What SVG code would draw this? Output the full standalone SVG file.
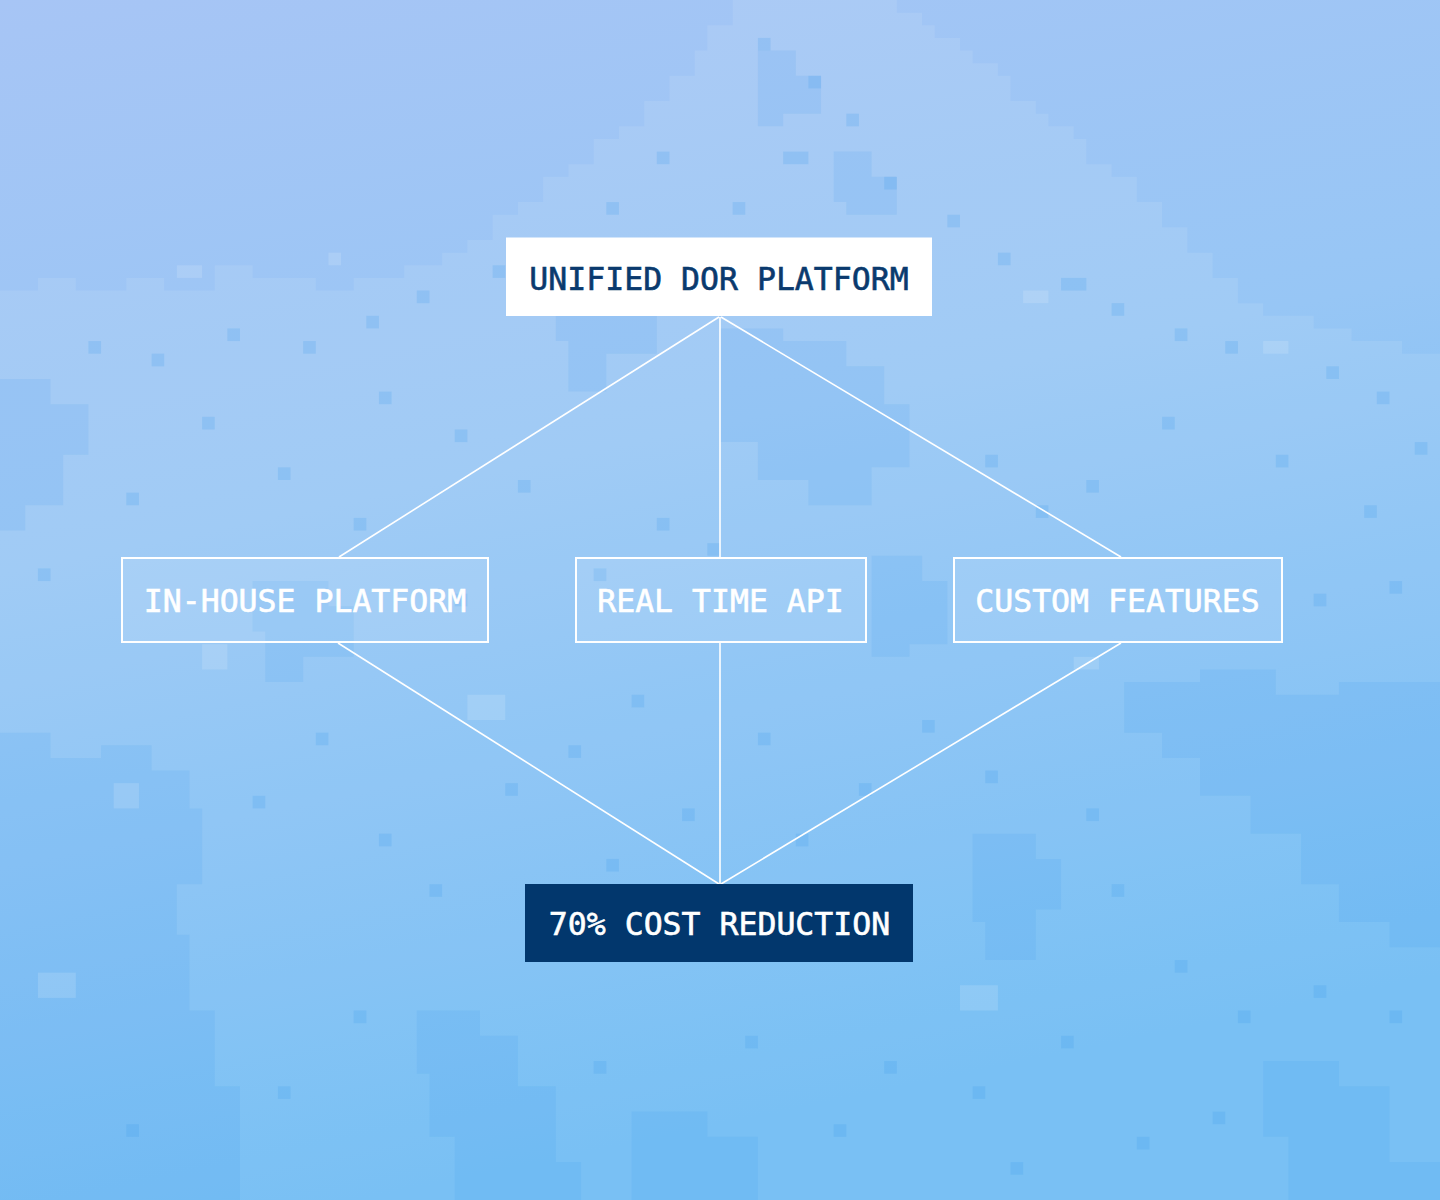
<svg xmlns="http://www.w3.org/2000/svg" width="1440" height="1200" viewBox="0 0 1440 1200">
  <defs>
    <linearGradient id="bg" x1="0" y1="0" x2="0.25" y2="1">
      <stop offset="0" stop-color="#a7c5f5"/>
      <stop offset="0.45" stop-color="#97c6f5"/>
      <stop offset="1" stop-color="#6cbaf3"/>
    </linearGradient>
    <style>
      .lt { fill: #ffffff; fill-opacity: 0.09; }
      .dk { fill: #2f95ea; fill-opacity: 0.11; }
      .sq { fill: #3d9cec; fill-opacity: 0.2; }
      .sl { fill: #ffffff; fill-opacity: 0.14; }
      .edge { stroke: #ffffff; stroke-width: 1.6; fill: none; }
      .label { font-family: "DejaVu Sans Mono", "Liberation Mono", monospace; font-size: 31.5px; text-anchor: middle; stroke-width: 0.6; }
      .outline { fill: #ffffff; fill-opacity: 0.1; stroke: #ffffff; stroke-width: 2; }
    </style>
  </defs>

  <g id="background">
    <rect x="0" y="0" width="1440" height="1200" fill="url(#bg)"/>
    <g transform="scale(12.6316)">
      <path class="lt" d="M0,95 V23 H3 V22 H6 V23 H10 V22 H13 V23 H17 V21 H20 V22 H25 V23 H28 V22 H32 V21 H35 V20 H37 V19 H39 V17 H41 V16 H43 V14 H45 V13 H47 V11 H49 V10 H51 V8 H53 V6 H55 V4 H56 V2 H58 V0 H71 V1 H73 V2 H74 V3 H76 V4 H77 V5 H79 V6 H80 V8 H82 V9 H83 V10 H85 V11 H86 V13 H88 V14 H90 V16 H92 V18 H94 V20 H96 V22 H98 V24 H100 V25 H104 V26 H107 V27 H111 V28 H114 V95 Z"/>
      <path class="dk" d="M0,58 H4 V60 H8 V59 H12 V61 H15 V64 H16 V70 H14 V74 H15 V80 H17 V86 H19 V95 H0 Z"/>
      <path class="dk" d="M89,54 H95 V53 H101 V55 H106 V54 H114 V75 H110 V73 H106 V70 H103 V66 H99 V63 H95 V60 H92 V58 H89 Z"/>
      <path class="dk" d="M57,26 H62 V27 H67 V29 H70 V32 H72 V37 H69 V40 H64 V38 H60 V35 H57 Z"/>
      <path class="dk" d="M69,44 H73 V46 H75 V51 H72 V52 H69 Z"/>
      <path class="dk" d="M77,66 H82 V68 H84 V72 H82 V76 H78 V73 H77 Z"/>
      <path class="dk" d="M33,80 H38 V82 H41 V86 H44 V92 H46 V95 H36 V90 H34 V85 H33 Z"/>
      <path class="dk" d="M50,88 H56 V90 H60 V95 H50 Z"/>
      <path class="dk" d="M0,30 H4 V32 H7 V36 H5 V40 H2 V42 H0 Z"/>
      <path class="dk" d="M44,22 H49 V24 H52 V28 H48 V31 H45 V27 H44 Z"/>
      <path class="dk" d="M100,84 H106 V86 H110 V92 H114 V95 H102 V90 H100 Z"/>
      <path class="dk" d="M20,46 H26 V48 H28 V52 H24 V54 H21 V50 H20 Z"/>
      <path class="dk" d="M60,4 H63 V6 H65 V9 H62 V10 H60 Z"/>
      <path class="dk" d="M66,12 H69 V14 H71 V17 H67 V16 H66 Z"/>
      <rect class="sq" x="60" y="3" width="1" height="1"/>
      <rect class="sq" x="64" y="6" width="1" height="1"/>
      <rect class="sq" x="67" y="9" width="1" height="1"/>
      <rect class="sq" x="62" y="12" width="2" height="1"/>
      <rect class="sq" x="70" y="14" width="1" height="1"/>
      <rect class="sq" x="58" y="16" width="1" height="1"/>
      <rect class="sq" x="75" y="17" width="1" height="1"/>
      <rect class="sq" x="79" y="20" width="1" height="1"/>
      <rect class="sq" x="84" y="22" width="2" height="1"/>
      <rect class="sq" x="88" y="24" width="1" height="1"/>
      <rect class="sq" x="93" y="26" width="1" height="1"/>
      <rect class="sq" x="97" y="27" width="1" height="1"/>
      <rect class="sq" x="105" y="29" width="1" height="1"/>
      <rect class="sq" x="109" y="31" width="1" height="1"/>
      <rect class="sq" x="112" y="35" width="1" height="1"/>
      <rect class="sq" x="52" y="12" width="1" height="1"/>
      <rect class="sq" x="48" y="16" width="1" height="1"/>
      <rect class="sq" x="44" y="19" width="1" height="1"/>
      <rect class="sq" x="39" y="21" width="1" height="1"/>
      <rect class="sq" x="33" y="23" width="1" height="1"/>
      <rect class="sq" x="29" y="25" width="1" height="1"/>
      <rect class="sq" x="24" y="27" width="1" height="1"/>
      <rect class="sq" x="18" y="26" width="1" height="1"/>
      <rect class="sq" x="12" y="28" width="1" height="1"/>
      <rect class="sq" x="7" y="27" width="1" height="1"/>
      <rect class="sq" x="30" y="31" width="1" height="1"/>
      <rect class="sq" x="16" y="33" width="1" height="1"/>
      <rect class="sq" x="36" y="34" width="1" height="1"/>
      <rect class="sq" x="22" y="37" width="1" height="1"/>
      <rect class="sq" x="10" y="39" width="1" height="1"/>
      <rect class="sq" x="41" y="38" width="1" height="1"/>
      <rect class="sq" x="28" y="41" width="1" height="1"/>
      <rect class="sq" x="3" y="45" width="1" height="1"/>
      <rect class="sq" x="36" y="47" width="1" height="1"/>
      <rect class="sq" x="47" y="45" width="1" height="1"/>
      <rect class="sq" x="52" y="41" width="1" height="1"/>
      <rect class="sq" x="56" y="43" width="1" height="1"/>
      <rect class="sq" x="78" y="36" width="1" height="1"/>
      <rect class="sq" x="82" y="40" width="1" height="1"/>
      <rect class="sq" x="86" y="38" width="1" height="1"/>
      <rect class="sq" x="92" y="33" width="1" height="1"/>
      <rect class="sq" x="101" y="36" width="1" height="1"/>
      <rect class="sq" x="108" y="40" width="1" height="1"/>
      <rect class="sq" x="104" y="47" width="1" height="1"/>
      <rect class="sq" x="110" y="46" width="1" height="1"/>
      <rect class="sq" x="50" y="55" width="1" height="1"/>
      <rect class="sq" x="45" y="59" width="1" height="1"/>
      <rect class="sq" x="40" y="62" width="1" height="1"/>
      <rect class="sq" x="25" y="58" width="1" height="1"/>
      <rect class="sq" x="20" y="63" width="1" height="1"/>
      <rect class="sq" x="30" y="66" width="1" height="1"/>
      <rect class="sq" x="34" y="70" width="1" height="1"/>
      <rect class="sq" x="42" y="73" width="1" height="1"/>
      <rect class="sq" x="48" y="68" width="1" height="1"/>
      <rect class="sq" x="54" y="64" width="1" height="1"/>
      <rect class="sq" x="60" y="58" width="1" height="1"/>
      <rect class="sq" x="63" y="66" width="1" height="1"/>
      <rect class="sq" x="68" y="62" width="1" height="1"/>
      <rect class="sq" x="73" y="57" width="1" height="1"/>
      <rect class="sq" x="78" y="61" width="1" height="1"/>
      <rect class="sq" x="86" y="64" width="1" height="1"/>
      <rect class="sq" x="88" y="70" width="1" height="1"/>
      <rect class="sq" x="93" y="76" width="1" height="1"/>
      <rect class="sq" x="98" y="80" width="1" height="1"/>
      <rect class="sq" x="104" y="78" width="1" height="1"/>
      <rect class="sq" x="110" y="80" width="1" height="1"/>
      <rect class="sq" x="84" y="82" width="1" height="1"/>
      <rect class="sq" x="77" y="86" width="1" height="1"/>
      <rect class="sq" x="70" y="84" width="1" height="1"/>
      <rect class="sq" x="66" y="89" width="1" height="1"/>
      <rect class="sq" x="59" y="82" width="1" height="1"/>
      <rect class="sq" x="47" y="84" width="1" height="1"/>
      <rect class="sq" x="28" y="80" width="1" height="1"/>
      <rect class="sq" x="22" y="86" width="1" height="1"/>
      <rect class="sq" x="10" y="89" width="1" height="1"/>
      <rect class="sq" x="90" y="90" width="1" height="1"/>
      <rect class="sq" x="96" y="88" width="1" height="1"/>
      <rect class="sq" x="80" y="92" width="1" height="1"/>
      <rect class="sl" x="50" y="21" width="2" height="1"/>
      <rect class="sl" x="14" y="21" width="2" height="1"/>
      <rect class="sl" x="26" y="20" width="1" height="1"/>
      <rect class="sl" x="81" y="23" width="2" height="1"/>
      <rect class="sl" x="100" y="27" width="2" height="1"/>
      <rect class="sl" x="16" y="51" width="2" height="2"/>
      <rect class="sl" x="9" y="62" width="2" height="2"/>
      <rect class="sl" x="3" y="77" width="3" height="2"/>
      <rect class="sl" x="85" y="52" width="2" height="1"/>
      <rect class="sl" x="76" y="78" width="3" height="2"/>
      <rect class="sl" x="37" y="55" width="3" height="2"/>
    </g>
  </g>

  <g id="connectors">
    <line class="edge" x1="719" y1="317" x2="339" y2="557"/>
    <line class="edge" x1="720" y1="317" x2="720" y2="557"/>
    <line class="edge" x1="721" y1="317" x2="1121" y2="557"/>
    <line class="edge" x1="338" y1="643" x2="719" y2="884"/>
    <line class="edge" x1="720" y1="643" x2="720" y2="884"/>
    <line class="edge" x1="1121" y1="643" x2="721" y2="884"/>
  </g>

  <g id="node-unified">
    <rect x="506" y="237.5" width="426" height="78.5" fill="#ffffff"/>
    <text class="label" x="719" y="290" fill="#0a3a6e" stroke="#0a3a6e">UNIFIED DOR PLATFORM</text>
  </g>

  <g id="node-inhouse">
    <rect class="outline" x="122" y="558" width="366" height="84"/>
    <text class="label" x="305" y="612" fill="#ffffff" stroke="#ffffff">IN-HOUSE PLATFORM</text>
  </g>

  <g id="node-realtime">
    <rect class="outline" x="576" y="558" width="290" height="84"/>
    <text class="label" x="720.5" y="612" fill="#ffffff" stroke="#ffffff">REAL TIME API</text>
  </g>

  <g id="node-custom">
    <rect class="outline" x="954" y="558" width="328" height="84"/>
    <text class="label" x="1117.5" y="612" fill="#ffffff" stroke="#ffffff">CUSTOM FEATURES</text>
  </g>

  <g id="node-cost">
    <rect x="525" y="884" width="388" height="78" fill="#02376d"/>
    <text class="label" x="719.5" y="935" fill="#ffffff" stroke="#ffffff">70% COST REDUCTION</text>
  </g>
</svg>
